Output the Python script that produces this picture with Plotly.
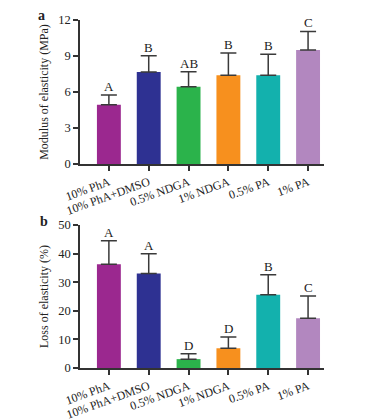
import plotly.graph_objects as go
from plotly.subplots import make_subplots

categories = ["10% PhA", "10% PhA+DMSO", "0.5% NDGA", "1% NDGA", "0.5% PA", "1% PA"]
colors = ["#9B288F", "#2E3192", "#2BB34B", "#F7901E", "#13B1AD", "#B287BF"]

modulus = [4.95, 7.67, 6.45, 7.4, 7.4, 9.5]
modulus_err = [0.8, 1.35, 1.25, 1.85, 1.75, 1.55]
modulus_letters = ["A", "B", "AB", "B", "B", "C"]

loss = [36.3, 33.0, 3.1, 6.9, 25.6, 17.4]
loss_err = [8.2, 6.9, 1.9, 3.9, 7.0, 7.8]
loss_letters = ["A", "A", "D", "D", "B", "C"]

font_family = "Liberation Serif, Times New Roman, serif"

fig = make_subplots(rows=2, cols=1, vertical_spacing=0.175)

x_idx = list(range(len(categories)))

for row, vals, errs, letters in [(1, modulus, modulus_err, modulus_letters),
                                 (2, loss, loss_err, loss_letters)]:
    fig.add_trace(go.Bar(
        x=x_idx, y=vals, width=0.6,
        marker=dict(color=colors, line=dict(width=0)),
        error_y=dict(type="data", symmetric=False, array=errs,
                     arrayminus=[0] * len(errs), color="#3a3a3a",
                     thickness=1.5, width=8),
        showlegend=False,
    ), row=row, col=1)
    for i, (v, e, t) in enumerate(zip(vals, errs, letters)):
        fig.add_annotation(x=i, y=v + e, text=t, showarrow=False,
                           yanchor="bottom", yshift=-1,
                           font=dict(family=font_family, size=13, color="#222"),
                           row=row, col=1)

axis_common = dict(showline=True, linecolor="#333", linewidth=1.5,
                   ticks="outside", tickcolor="#333", tickwidth=1.5, ticklen=5,
                   showgrid=False, zeroline=False, automargin=False)

for row in (1, 2):
    fig.update_xaxes(tickmode="array", tickvals=x_idx, ticktext=categories,
                     tickangle=-20, range=[-0.725, 5.4], row=row, col=1,
                     tickfont=dict(family=font_family, size=12, color="#222"),
                     **axis_common)

fig.update_yaxes(range=[0, 12], tickvals=[0, 3, 6, 9, 12], row=1, col=1,
                 tickfont=dict(family=font_family, size=12.5, color="#222"),
                 title=dict(text="Modulus of elasticity (MPa)",
                            font=dict(family=font_family, size=12, color="#222"),
                            standoff=7),
                 **axis_common)
fig.update_yaxes(range=[0, 50], tickvals=[0, 10, 20, 30, 40, 50], row=2, col=1,
                 tickfont=dict(family=font_family, size=12.5, color="#222"),
                 title=dict(text="Loss of elasticity (%)",
                            font=dict(family=font_family, size=12, color="#222"),
                            standoff=7),
                 **axis_common)

fig.update_layout(
    width=379, height=419,
    margin=dict(l=72, r=63, t=12, b=59),
    plot_bgcolor="white", paper_bgcolor="white",
    bargap=0.4,
    font=dict(family=font_family, color="#222"),
)
fig.update_yaxes(domain=[0.586, 1.0], row=1, col=1)
fig.update_yaxes(domain=[0.0, 0.411], row=2, col=1)

fig.add_annotation(text="<b>a</b>", x=(33 - 72) / 244, y=(368 - 16) / 348,
                   xref="paper", yref="paper", showarrow=False,
                   xanchor="center", yanchor="middle",
                   font=dict(family=font_family, size=14, color="#222"))
fig.add_annotation(text="<b>b</b>", x=(36 - 72) / 244, y=(368 - 221) / 348,
                   xref="paper", yref="paper", showarrow=False,
                   xanchor="center", yanchor="middle",
                   font=dict(family=font_family, size=14, color="#222"))

fig.write_html("out.html")
